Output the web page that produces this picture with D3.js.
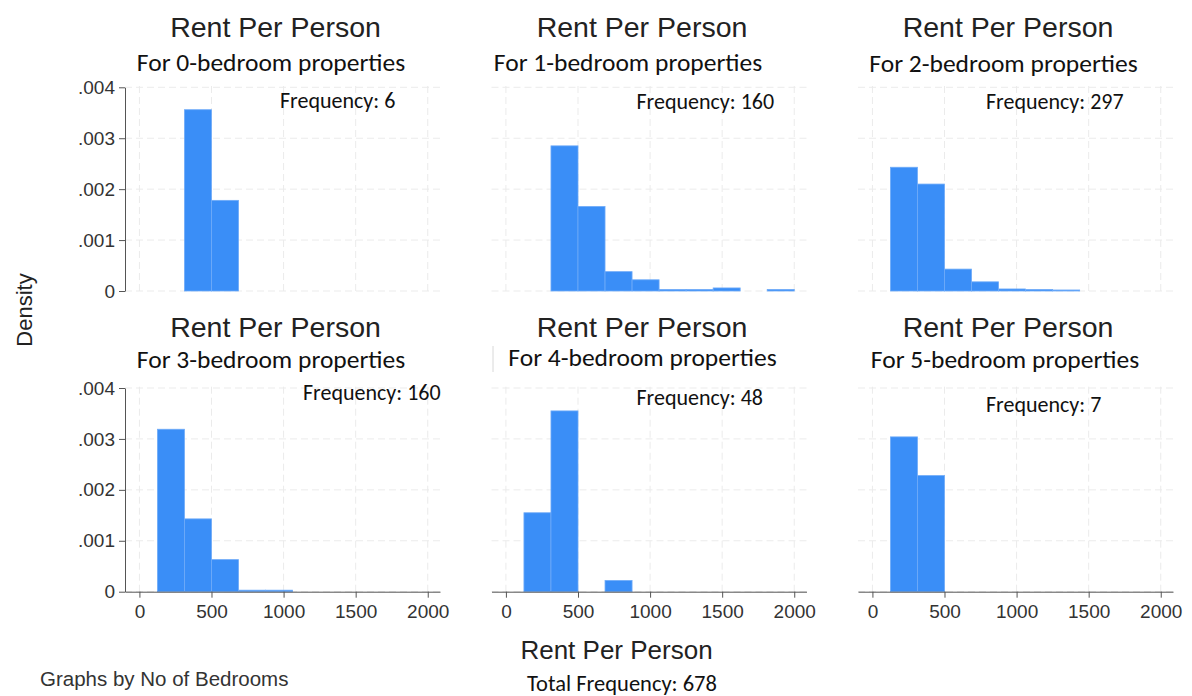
<!DOCTYPE html>
<html>
<head>
<meta charset="utf-8">
<script src="https://cdn.jsdelivr.net/npm/d3@7"></script>
<style>
  body { margin: 0; background: #fff; }
  svg { display: block; }
  .arial { font-family: "Liberation Sans", Arial, sans-serif; }
  .calibri { font-family: Carlito, Lato, "Open Sans", sans-serif; }
</style>
</head>
<body>
<svg id="chart"></svg>
<script>
// histogram bins shared by all panels (Rent Per Person)
const binEdges = [125, 312.5, 500, 687.5, 875, 1062.5, 1250, 1437.5, 1625, 1812.5, 2000];
const bedrooms = [0, 1, 2, 3, 4, 5];
const frequencies = [6, 160, 297, 160, 48, 7];
const totalFrequency = 678;

// density per bin
const density0 = [0, 0.00356, 0.00178, 0, 0, 0, 0, 0, 0, 0];
const density1 = [0, 0.00285, 0.00166, 0.00038, 0.00022, 0.00003, 0.00003, 0.00006, 0, 0.00003];
const density2 = [0.00243, 0.00210, 0.00043, 0.00018, 0.00004, 0.00003, 0.00002, 0, 0, 0];
const density3 = [0.00319, 0.00143, 0.00063, 0.00003, 0.00003, 0, 0, 0, 0, 0];
const density4 = [0.00155, 0.00355, 0, 0.00022, 0, 0, 0, 0, 0, 0];
const density5 = [0.00304, 0.00228, 0, 0, 0, 0, 0, 0, 0, 0];
const densities = [density0, density1, density2, density3, density4, density5];

const xTicks = [0, 500, 1000, 1500, 2000];
const yTicks = [0, 0.001, 0.002, 0.003, 0.004];

const W = 1192, H = 696;
const colLeft = [125, 491.5, 858];
const rowBase = [291, 591.7];
const plotW = 315, plotH = 203.7;

// hand placed text overlays (per panel)
const titlePos = [[275.5, 37], [642, 37], [1008, 37], [275.5, 337], [642, 337], [1008, 337]];
const subPos = [[271, 71], [628, 71], [1003.5, 72], [271, 368], [642.5, 366], [1005, 368]];
const freqPos = [[280, 108], [636.5, 109], [986, 109], [303, 400], [636.5, 405], [986, 411.5]];

const svg = d3.select("#chart")
    .attr("width", W)
    .attr("height", H);

const barFill = "#3a8ef7";

bedrooms.forEach((b, i) => {
  const col = i % 3, row = Math.floor(i / 3);
  const left = colLeft[col], base = rowBase[row];

  const x = d3.scaleLinear().domain([-100, 2085]).range([left, left + plotW]);
  const y = d3.scaleLinear().domain([0, 0.004]).range([base, base - plotH]);

  const g = svg.append("g");

  // dashed grid
  g.selectAll(".hgrid")
    .data(yTicks)
    .enter().append("line")
    .attr("x1", left).attr("x2", left + plotW)
    .attr("y1", d => y(d)).attr("y2", d => y(d))
    .attr("stroke", "#ebebeb")
    .attr("stroke-dasharray", "7,4");

  g.selectAll(".vgrid")
    .data(xTicks)
    .enter().append("line")
    .attr("x1", d => x(d)).attr("x2", d => x(d))
    .attr("y1", base).attr("y2", y(0.004) - 4)
    .attr("stroke", "#ebebeb")
    .attr("stroke-dasharray", "7,4");

  const bins = densities[i].map((v, k) => ({ x0: binEdges[k], x1: binEdges[k + 1], v }))
    .filter(d => d.v > 0);

  g.selectAll(".bar")
    .data(bins)
    .enter().append("rect")
    .attr("x", d => x(d.x0))
    .attr("width", d => x(d.x1) - x(d.x0))
    .attr("y", d => y(d.v))
    .attr("height", d => y(0) - y(d.v))
    .attr("fill", barFill)
    .attr("stroke", "#6fabf8")
    .attr("stroke-width", 0.8);

  if (col === 0) {
    const ya = g.append("g")
      .attr("transform", `translate(${left},0)`)
      .call(d3.axisLeft(y)
        .tickValues(yTicks)
        .tickSize(6)
        .tickSizeOuter(0)
        .tickFormat(d => d === 0 ? "0" : d3.format(".3f")(d).replace(/^0/, "")));
    ya.select(".domain").attr("stroke", "#555");
    ya.selectAll(".tick line").attr("stroke", "#555");
    ya.selectAll("text")
      .attr("class", "arial")
      .style("font-size", "19px")
      .attr("fill", "#333")
      .attr("x", -10);
  }

  if (row === 1) {
    const xa = g.append("g")
      .attr("transform", `translate(0,${base})`)
      .call(d3.axisBottom(x)
        .tickValues(xTicks)
        .tickSize(6)
        .tickSizeOuter(0)
        .tickFormat(d3.format("d")));
    xa.select(".domain").attr("stroke", "#555");
    xa.selectAll(".tick line").attr("stroke", "#555");
    xa.selectAll("text")
      .attr("class", "arial")
      .style("font-size", "19px")
      .attr("fill", "#333")
      .attr("y", 13);
  }

  svg.append("text")
    .attr("class", "arial")
    .attr("x", titlePos[i][0]).attr("y", titlePos[i][1])
    .attr("text-anchor", "middle")
    .style("font-size", "28.5px")
    .attr("fill", "#222")
    .text("Rent Per Person");

  svg.append("text")
    .attr("class", "calibri")
    .attr("x", subPos[i][0]).attr("y", subPos[i][1])
    .attr("text-anchor", "middle")
    .style("font-size", "25.5px")
    .attr("fill", "#111")
    .text(`For ${b}-bedroom properties`);

  svg.append("text")
    .attr("class", "calibri")
    .attr("x", freqPos[i][0]).attr("y", freqPos[i][1])
    .style("font-size", "22px")
    .attr("fill", "#111")
    .text(`Frequency: ${frequencies[i]}`);
});

// faint edge left over from a text box
svg.append("line")
  .attr("x1", 493).attr("x2", 493)
  .attr("y1", 346).attr("y2", 372)
  .attr("stroke", "#d8d8d8");

svg.append("text")
  .attr("class", "arial")
  .attr("transform", "translate(32,310) rotate(-90)")
  .attr("text-anchor", "middle")
  .style("font-size", "22px")
  .attr("fill", "#222")
  .text("Density");

svg.append("text")
  .attr("class", "arial")
  .attr("x", 616.5).attr("y", 659)
  .attr("text-anchor", "middle")
  .style("font-size", "26px")
  .attr("fill", "#222")
  .text("Rent Per Person");

svg.append("text")
  .attr("class", "arial")
  .attr("x", 40).attr("y", 686)
  .style("font-size", "20.5px")
  .attr("fill", "#333")
  .text("Graphs by No of Bedrooms");

svg.append("text")
  .attr("class", "calibri")
  .attr("x", 622).attr("y", 691)
  .attr("text-anchor", "middle")
  .style("font-size", "22.5px")
  .attr("fill", "#111")
  .text(`Total Frequency: ${totalFrequency}`);
</script>
</body>
</html>
